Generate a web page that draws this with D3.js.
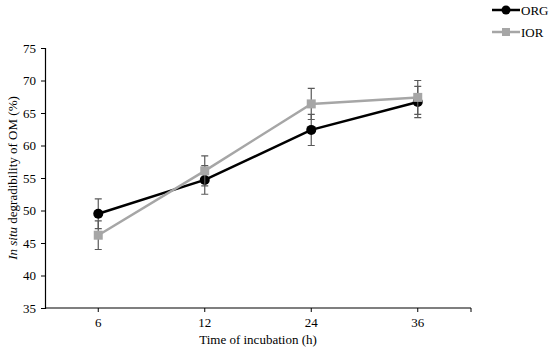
<!DOCTYPE html>
<html>
<head>
<meta charset="utf-8">
<script src="https://cdn.jsdelivr.net/npm/d3@7"></script>
<style>
  body { margin: 0; background: #fff; }
  svg { display: block; font-family: "Liberation Serif", "Times New Roman", serif; }
</style>
</head>
<body>
<div id="chart"></div>
<script>
const categories = ["6", "12", "24", "36"];
const orgValues = [49.5, 54.7, 62.4, 66.7];
const orgErrors = [2.3, 2.2, 2.4, 2.4];
const iorValues = [46.2, 56.1, 66.4, 67.4];
const iorErrors = [2.2, 2.3, 2.4, 2.6];
const yTicks = [35, 40, 45, 50, 55, 60, 65, 70, 75];

const width = 550;
const height = 351;
const margin = {top: 48, right: 79, bottom: 43, left: 45};

const svg = d3.select('#chart').append('svg')
    .attr('width', width)
    .attr('height', height);

const x = d3.scaleBand()
    .domain(categories)
    .range([margin.left, width - margin.right]);

const y = d3.scaleLinear()
    .domain([35, 75])
    .range([height - margin.bottom, margin.top]);

const cx = d => x(d) + x.bandwidth() / 2;

// axes
const xAxis = svg.append('g')
    .attr('transform', `translate(0,${height - margin.bottom})`);
xAxis.append('line')
    .attr('x1', margin.left).attr('x2', width - margin.right)
    .attr('stroke', '#000').attr('stroke-width', 1.2);
xAxis.selectAll('.tk')
    .data(categories)
    .join('line')
    .attr('x1', d => cx(d)).attr('x2', d => cx(d))
    .attr('y1', 0).attr('y2', 4)
    .attr('stroke', '#000');
xAxis.append('line')
    .attr('x1', width - margin.right).attr('x2', width - margin.right)
    .attr('y1', 0).attr('y2', 4)
    .attr('stroke', '#000');
xAxis.selectAll('text')
    .data(categories)
    .join('text')
    .attr('x', d => cx(d))
    .attr('y', 19)
    .attr('text-anchor', 'middle')
    .attr('font-size', 13)
    .text(d => d);

const yAxis = svg.append('g')
    .attr('transform', `translate(${margin.left},0)`)
    .call(d3.axisLeft(y).tickValues(yTicks).tickSize(4).tickPadding(5))
    .call(g => g.select('.domain').attr('stroke-width', 1.2))
    .call(g => g.selectAll('text').attr('font-size', 13).attr('font-family', '"Liberation Serif", serif'));

// axis titles
svg.append('text')
    .attr('x', (margin.left + width - margin.right) / 2)
    .attr('y', height - 7)
    .attr('text-anchor', 'middle')
    .attr('font-size', 13)
    .text('Time of incubation (h)');

const yTitle = svg.append('text')
    .attr('transform', `translate(17,${(margin.top + height - margin.bottom) / 2}) rotate(-90)`)
    .attr('text-anchor', 'middle')
    .attr('font-size', 13);
yTitle.append('tspan').attr('font-style', 'italic').text('In situ');
yTitle.append('tspan').text(' degradibility of OM (%)');

function drawSeries(values, errors, color, shape) {
    const data = categories.map((c, i) => ({c: c, v: values[i], e: errors[i]}));
    const g = svg.append('g');
    // error bars
    g.selectAll('.eb')
        .data(data)
        .join('path')
        .attr('d', d => {
            const px = cx(d.c), t = y(d.v + d.e), b = y(d.v - d.e);
            return `M${px},${t}V${b}M${px - 3.5},${t}H${px + 3.5}M${px - 3.5},${b}H${px + 3.5}`;
        })
        .attr('fill', 'none')
        .attr('stroke', '#595959')
        .attr('stroke-width', 1.2);
    const line = d3.line().x(d => cx(d.c)).y(d => y(d.v));
    g.append('path')
        .datum(data)
        .attr('d', line)
        .attr('fill', 'none')
        .attr('stroke', color)
        .attr('stroke-width', 2.5);
    if (shape === 'circle') {
        g.selectAll('circle')
            .data(data)
            .join('circle')
            .attr('cx', d => cx(d.c)).attr('cy', d => y(d.v))
            .attr('r', 5).attr('fill', color);
    } else {
        g.selectAll('rect')
            .data(data)
            .join('rect')
            .attr('x', d => cx(d.c) - 4.5).attr('y', d => y(d.v) - 4.5)
            .attr('width', 9).attr('height', 9).attr('fill', color);
    }
}

drawSeries(orgValues, orgErrors, '#000000', 'circle');
drawSeries(iorValues, iorErrors, '#a6a6a6', 'square');

// legend
const legendItems = [
    {name: 'ORG', color: '#000000', shape: 'circle'},
    {name: 'IOR', color: '#a6a6a6', shape: 'square'}
];
const legend = svg.append('g').attr('transform', 'translate(492,10)');
legendItems.forEach((it, i) => {
    const gy = i * 22;
    legend.append('line')
        .attr('x1', 0).attr('x2', 28).attr('y1', gy).attr('y2', gy)
        .attr('stroke', it.color).attr('stroke-width', 2.5);
    if (it.shape === 'circle') {
        legend.append('circle').attr('cx', 14).attr('cy', gy).attr('r', 4.5).attr('fill', it.color);
    } else {
        legend.append('rect').attr('x', 10).attr('y', gy - 4).attr('width', 8).attr('height', 8).attr('fill', it.color);
    }
    legend.append('text')
        .attr('x', 29).attr('y', gy + 4.5)
        .attr('font-size', 13)
        .text(it.name);
});
</script>
</body>
</html>
